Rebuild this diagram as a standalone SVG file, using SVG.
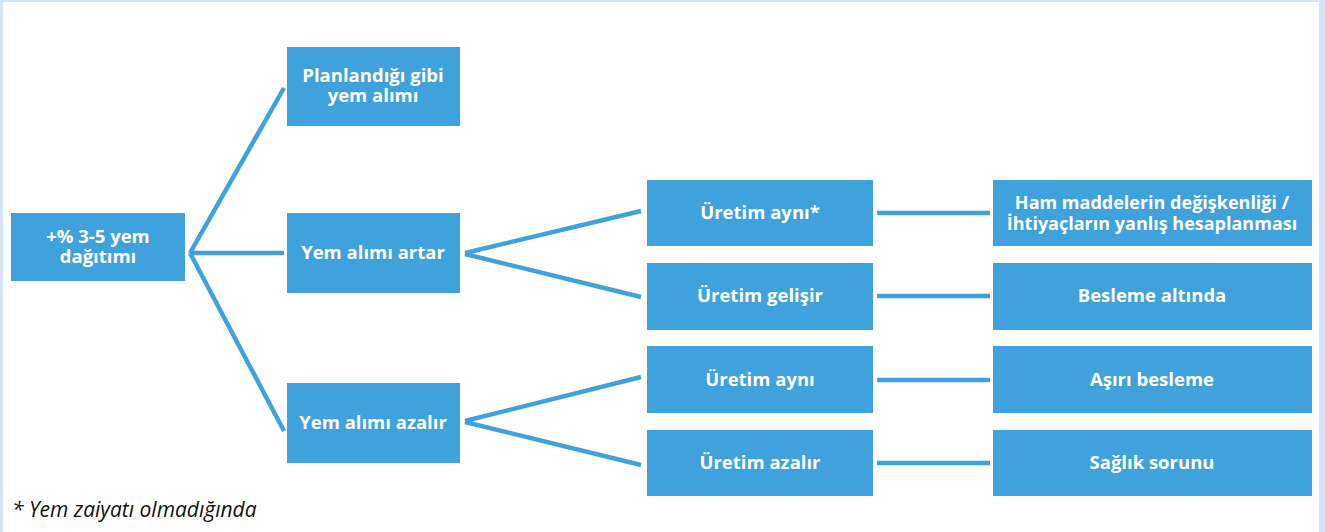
<svg xmlns="http://www.w3.org/2000/svg" width="1325" height="532" viewBox="0 0 1325 532">
<style>
.box{fill:#40a2dc}
.t{fill:#ffffff;font-family:"Open Sans","Noto Sans",sans-serif;font-weight:700;font-size:18.5px;text-anchor:middle}
.t2{fill:#ffffff;font-family:"Open Sans","Noto Sans",sans-serif;font-weight:700;font-size:18px;text-anchor:middle}
.c{stroke:#40a2dc;stroke-width:4.5;fill:none;stroke-linecap:butt}
.foot{fill:#111111;font-family:"Open Sans","Noto Sans",sans-serif;font-style:italic;font-size:21px}
</style>
<rect x="0" y="0" width="1325" height="532" fill="#ffffff"/>
<rect x="0" y="0" width="1325" height="2" fill="#d3e5f7"/>
<rect x="0" y="0" width="3" height="532" fill="#d3e5f7"/>
<rect x="1319" y="0" width="6" height="532" fill="#d3e5f7"/>
<g id="connectors">
<path class="c" d="M190,253 L284,88"/>
<path class="c" d="M190,253 L284,253"/>
<path class="c" d="M190,253 L284,431"/>
<path class="c" d="M465,253 L641,211"/>
<path class="c" d="M465,254 L641,297"/>
<path class="c" d="M465,421 L641,377"/>
<path class="c" d="M465,422 L641,465"/>
<path class="c" d="M877,213 L990,213"/>
<path class="c" d="M877,296 L990,296"/>
<path class="c" d="M877,380 L990,380"/>
<path class="c" d="M877,463 L990,463"/>
</g>
<g id="root"><rect class="box" x="11" y="213" width="174" height="68"/><text class="t" x="98" y="243">+% 3-5 yem<tspan x="98" dy="20">dağıtımı</tspan></text></g>
<g id="planlandigi"><rect class="box" x="287" y="47" width="173" height="79"/><text class="t" x="373" y="82">Planlandığı gibi<tspan x="373" dy="20">yem alımı</tspan></text></g>
<g id="artar"><rect class="box" x="287" y="213" width="173" height="80"/><text class="t" x="373" y="259">Yem alımı artar</text></g>
<g id="azalir"><rect class="box" x="287" y="383" width="173" height="80"/><text class="t" x="373" y="429">Yem alımı azalır</text></g>
<g id="uretim-ayni-star"><rect class="box" x="647" y="180" width="226" height="66"/><text class="t" x="760" y="219">Üretim aynı*</text></g>
<g id="uretim-gelisir"><rect class="box" x="647" y="263" width="226" height="67"/><text class="t" x="760" y="302">Üretim gelişir</text></g>
<g id="uretim-ayni"><rect class="box" x="647" y="346" width="226" height="67"/><text class="t" x="760" y="386">Üretim aynı</text></g>
<g id="uretim-azalir"><rect class="box" x="647" y="430" width="226" height="66"/><text class="t" x="760" y="469">Üretim azalır</text></g>
<g id="ham-maddeler"><rect class="box" x="993" y="180" width="319" height="66"/><text class="t2" x="1152" y="209">Ham maddelerin değişkenliği /<tspan x="1152" dy="21">İhtiyaçların yanlış hesaplanması</tspan></text></g>
<g id="besleme-altinda"><rect class="box" x="993" y="263" width="319" height="67"/><text class="t" x="1152" y="302">Besleme altında</text></g>
<g id="asiri-besleme"><rect class="box" x="993" y="346" width="319" height="67"/><text class="t" x="1152" y="386">Aşırı besleme</text></g>
<g id="saglik-sorunu"><rect class="box" x="993" y="430" width="319" height="66"/><text class="t" x="1152" y="469">Sağlık sorunu</text></g>
<text class="foot" x="12" y="517">* Yem zaiyatı olmadığında</text>
</svg>
